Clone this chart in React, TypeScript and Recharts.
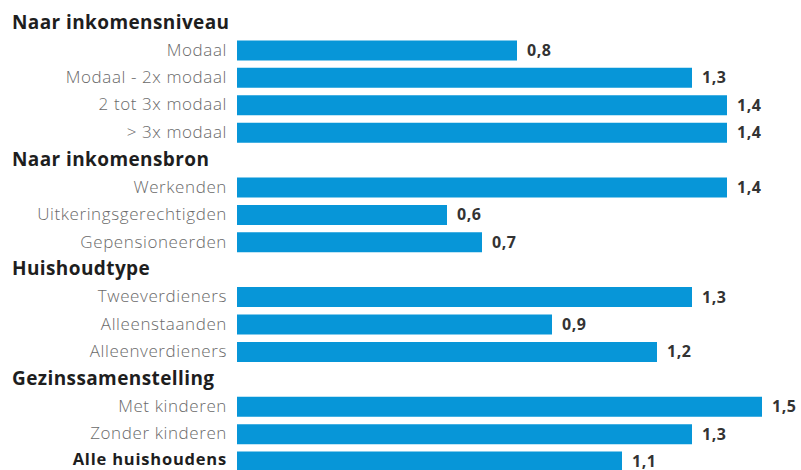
import React from 'react';
import { BarChart, Bar, XAxis, YAxis, LabelList } from 'recharts';

// rows from top to bottom; headers carry no value
const categories = [
    'Naar inkomensniveau',
    'Modaal',
    'Modaal - 2x modaal',
    '2 tot 3x modaal',
    '> 3x modaal',
    'Naar inkomensbron',
    'Werkenden',
    'Uitkeringsgerechtigden',
    'Gepensioneerden',
    'Huishoudtype',
    'Tweeverdieners',
    'Alleenstaanden',
    'Alleenverdieners',
    'Gezinssamenstelling',
    'Met kinderen',
    'Zonder kinderen',
    'Alle huishoudens'
];

const values: (number | null)[] = [
    null, 0.8, 1.3, 1.4, 1.4,
    null, 1.4, 0.6, 0.7,
    null, 1.3, 0.9, 1.2,
    null, 1.5, 1.3, 1.1
];

const rowKinds = [
    'header', 'item', 'item', 'item', 'item',
    'header', 'item', 'item', 'item',
    'header', 'item', 'item', 'item',
    'header', 'item', 'item', 'total'
];

const data = categories.map((name, i) => ({ name, value: values[i], kind: rowKinds[i] }));

const FONT = '"Open Sans", Lato, sans-serif';
const BAR_COLOR = '#0796d8';

const CategoryTick = (props: any) => {
    const { y, payload } = props;
    const kind = rowKinds[categories.indexOf(payload.value)];
    if (kind === 'header') {
        return (
            <text x={12} y={y} dy={6} textAnchor="start" fontFamily={FONT}
                fontSize={19} fontWeight={700} letterSpacing={0.4} fill="#1e1e1e">
                {payload.value}
            </text>
        );
    }
    if (kind === 'total') {
        return (
            <text x={227} y={y} dy={4} textAnchor="end" fontFamily={FONT}
                fontSize={16.5} fontWeight={700} letterSpacing={0.8} fill="#1e1e1e">
                {payload.value}
            </text>
        );
    }
    return (
        <text x={227} y={y} dy={5.5} textAnchor="end" fontFamily={FONT}
            fontSize={17} fontWeight={300} letterSpacing={0.6} fill="#6a6a6a">
            {payload.value}
        </text>
    );
};

const ValueLabel = (props: any) => {
    const { x, y, width, height, value, index } = props;
    if (value === null || value === undefined) return null;
    const last = index === categories.length - 1;
    return (
        <text x={x + width + 10} y={y + height / 2} dy={last ? 3.5 : 5.5} fontFamily={FONT}
            fontSize={16} fontWeight={700} letterSpacing={0.5} fill="#333333">
            {String(value.toFixed(1)).replace('.', ',')}
        </text>
    );
};

export default function App() {
    return (
        <div style={{ position: 'absolute', left: 0, top: 0, width: 801, height: 480, background: '#ffffff' }}>
            <BarChart
                width={801}
                height={480}
                data={data}
                layout="vertical"
                margin={{ top: 9, right: 4, left: 0, bottom: 5 }}
                barSize={20}
            >
                <XAxis type="number" domain={[0, 1.6]} hide />
                <YAxis
                    type="category"
                    dataKey="name"
                    width={237}
                    axisLine={false}
                    tickLine={false}
                    interval={0}
                    tick={<CategoryTick />}
                />
                <Bar dataKey="value" fill={BAR_COLOR} isAnimationActive={false}>
                    <LabelList dataKey="value" content={<ValueLabel />} />
                </Bar>
            </BarChart>
        </div>
    );
}
